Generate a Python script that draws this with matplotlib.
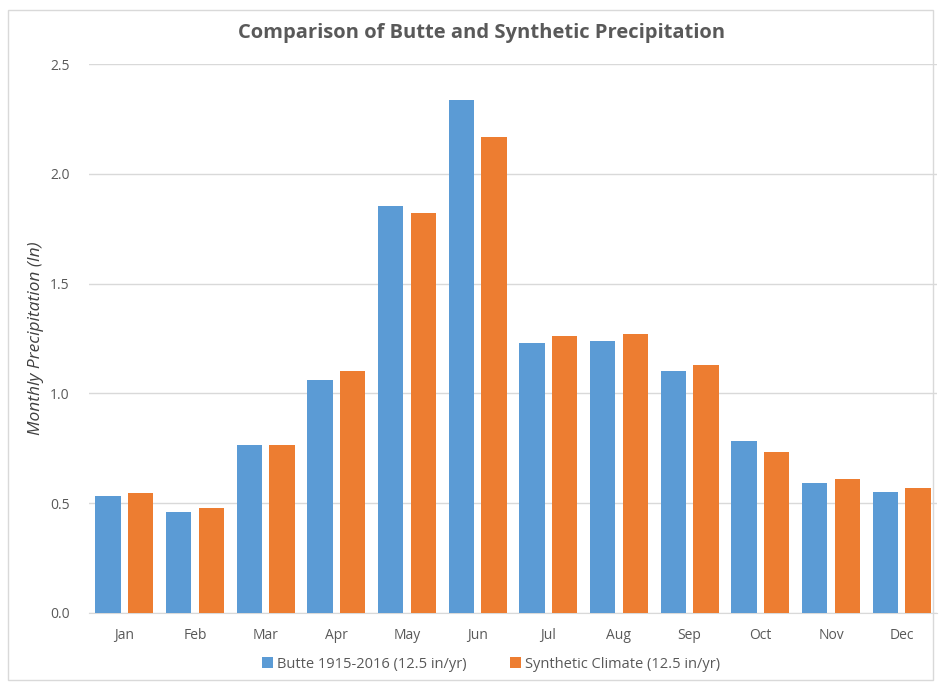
import numpy as np
import matplotlib.pyplot as plt
from matplotlib.patches import Rectangle

months = ["Jan", "Feb", "Mar", "Apr", "May", "Jun", "Jul", "Aug", "Sep", "Oct", "Nov", "Dec"]
butte = [0.534, 0.461, 0.766, 1.06, 1.855, 2.336, 1.23, 1.24, 1.10, 0.781, 0.594, 0.553]
synthetic = [0.545, 0.476, 0.764, 1.10, 1.82, 2.166, 1.26, 1.27, 1.13, 0.734, 0.612, 0.569]

plt.rcParams['font.family'] = ['Open Sans', 'DejaVu Sans']
gray = "#595959"

fig = plt.figure(figsize=(9.41, 6.88), dpi=100)
ax = fig.add_axes([89 / 941, 1 - 613 / 688, 848 / 941, 549 / 688])

x = np.arange(len(months))
w = 0.36
ax.bar(x - 0.23, butte, w, color="#5B9BD5", label="Butte 1915-2016 (12.5 in/yr)", zorder=3)
ax.bar(x + 0.23, synthetic, w, color="#ED7D31", label="Synthetic Climate (12.5 in/yr)", zorder=3)

ax.set_xlim(-0.5, 11.5)
ax.set_ylim(0, 2.5)
ax.set_yticks(np.arange(0, 2.51, 0.5))
ax.set_yticklabels([f"{v:.1f}" for v in np.arange(0, 2.51, 0.5)])
ax.set_xticks(x)
ax.set_xticklabels(months)
ax.tick_params(length=0, colors=gray, labelsize=10)
ax.tick_params(axis="y", pad=14)
ax.tick_params(axis="x", pad=11)
ax.grid(axis="y", color="#D9D9D9", linewidth=1, zorder=0)
for s in ["top", "right", "left"]:
    ax.spines[s].set_visible(False)
ax.spines["bottom"].set_color("#D9D9D9")

ax.set_ylabel("Monthly Precipitation (In)", fontsize=12.5, style="italic", color="#404040", labelpad=4)

fig.text(0.512, 1 - 33 / 688, "Comparison of Butte and Synthetic Precipitation",
         ha="center", va="center", fontsize=14.5, fontweight="bold", color=gray)

fig.legend(loc="center", bbox_to_anchor=(0.522, 1 - 664 / 688), ncol=2, frameon=False,
           fontsize=10.5, labelcolor=gray, handlelength=0.7, handleheight=0.7,
           handletextpad=0.3, columnspacing=3)

fig.patches.append(Rectangle((8 / 941, 8 / 688), 925 / 941, 670 / 688, transform=fig.transFigure,
                             fill=False, edgecolor="#D9D9D9", linewidth=1))

fig.savefig("out.png", dpi=100)
